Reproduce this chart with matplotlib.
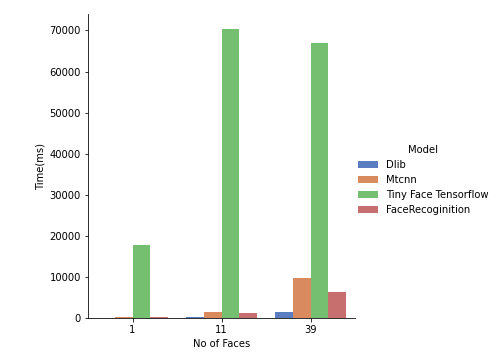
import matplotlib
matplotlib.use('Agg')
import matplotlib.pyplot as plt
import numpy as np
import colorsys

faces = ['1', '11', '39']
models = ['Dlib', 'Mtcnn', 'Tiny Face Tensorflow', 'FaceRecoginition']
dlib = [60, 150, 1500]
mtcnn = [200, 1500, 9800]
tiny = [17800, 70300, 67000]
facerec = [200, 1100, 6400]
colors = ['#4878d0', '#ee854a', '#6acc64', '#d65f5f']


def desat(c, p=0.75):
    r, g, b = matplotlib.colors.to_rgb(c)
    h, l, s = colorsys.rgb_to_hls(r, g, b)
    return colorsys.hls_to_rgb(h, l, s * p)


fig = plt.figure(figsize=(501 / 72, 360 / 72), dpi=72)
ax = fig.add_axes([88 / 501, 1 - 318 / 360, 267 / 501, 304 / 360])

x = np.arange(len(faces))
w = 0.8 / len(models)
for i, (vals, c, name) in enumerate(zip([dlib, mtcnn, tiny, facerec], colors, models)):
    ax.bar(x - 0.4 + w * (i + 0.5), vals, width=w, color=desat(c), label=name)

ax.set_xlim(-0.5, 2.5)
ax.set_ylim(0, 74000)
ax.set_xticks(x)
ax.set_xticklabels(faces)
ax.set_yticks(range(0, 70001, 10000))
ax.set_xlabel('No of Faces')
ax.set_ylabel('Time(ms)')
ax.spines['top'].set_visible(False)
ax.spines['right'].set_visible(False)

leg = ax.legend(title='Model', frameon=False, loc='center left',
                bbox_to_anchor=(349 / 501, 0.5), bbox_transform=fig.transFigure)

fig.savefig('out.png', dpi=72)
